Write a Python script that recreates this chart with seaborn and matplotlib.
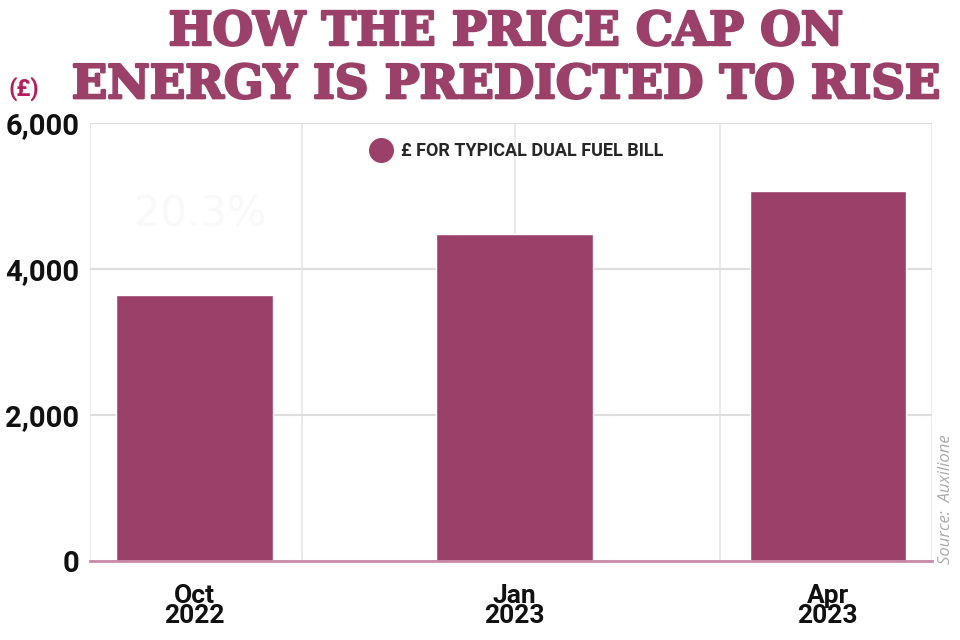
import pandas as pd
import seaborn as sns
import matplotlib.pyplot as plt
import matplotlib.patheffects as pe
from matplotlib.lines import Line2D

# Données
periods = ["2022-10-01", "2023-01-01", "2023-04-01"]
tick_labels = ["Oct\n2022", "Jan\n2023", "Apr\n2023"]
bill = [3650, 4480, 5070]
grid_dates = ["2022-09-01", "2022-11-01", "2023-01-01", "2023-03-01", "2023-05-01"]
y_ticks = [0, 2000, 4000, 6000]

start = pd.Timestamp("2022-09-01")
df = pd.DataFrame({"date": pd.to_datetime(periods), "bill": bill})
df["day"] = (df["date"] - start).dt.days
grid_days = [(pd.Timestamp(d) - start).days for d in grid_dates]

purple = "#9b4069"
bold_font = ["Roboto", "DejaVu Sans"]

sns.set_style("white")
fig = plt.figure(figsize=(9.6, 6.4), dpi=100)
ax = fig.add_axes([0.094, 0.123, 0.877, 0.685])

sns.barplot(data=df, x="day", y="bill", native_scale=True, width=0.5,
            color=purple, saturation=1, ax=ax, zorder=3)

# lignes verticales de la grille (tous les deux mois)
for d in grid_days:
    ax.axvline(d, color="#e6e6e6", linewidth=1.2, zorder=0)

ax.set_xlim(grid_days[0], grid_days[-1])
ax.set_ylim(0, 6000)
ax.set_xticks(df["day"])
ax.set_xticklabels(tick_labels, family=bold_font, fontweight="bold",
                   fontsize=19, linespacing=0.82, color="#111111")
ax.set_yticks(y_ticks)
ax.set_yticklabels([f"{v:,}" for v in y_ticks], family=bold_font,
                   fontweight="bold", fontsize=21, color="#111111")
ax.tick_params(axis="x", length=13, width=2, color="#b9668a", pad=3)
ax.tick_params(axis="y", length=0, pad=8)
ax.grid(axis="y", color="#dddddd", linewidth=1.5, zorder=0)
ax.set_axisbelow(True)
for s in ["top", "right", "left"]:
    ax.spines[s].set_visible(False)
ax.spines["bottom"].set_color("#c98aa6")
ax.spines["bottom"].set_linewidth(2)
ax.spines["bottom"].set_zorder(4)
ax.set_xlabel("")
ax.set_ylabel("")

# filigrane très pâle
ax.text(0.13, 0.79, "20.3%", transform=ax.transAxes, fontsize=30,
        color="#f9f9f9", ha="center", va="center", zorder=1)

handle = Line2D([], [], marker="o", linestyle="", markersize=17,
                markerfacecolor=purple, markeredgecolor=purple)
ax.legend([handle], ["£ FOR TYPICAL DUAL FUEL BILL"], loc="center left",
          bbox_to_anchor=(0.305, 0.935), frameon=False, handletextpad=0.1,
          prop={"family": bold_font, "weight": "bold", "size": 13})

heavy = [pe.withStroke(linewidth=1.8, foreground=purple)]
fig.text(0.527, 0.950, "HOW THE PRICE CAP ON", ha="center", va="center",
         family="DejaVu Serif", fontweight="bold", fontsize=33.5, color=purple,
         path_effects=heavy)
fig.text(0.527, 0.867, "ENERGY IS PREDICTED TO RISE", ha="center", va="center",
         family="DejaVu Serif", fontweight="bold", fontsize=33.5, color=purple,
         path_effects=heavy)
fig.text(0.025, 0.862, "(£)", ha="center", va="center", fontweight="bold",
         family=bold_font, fontsize=17, color="#b51d5c")
fig.text(0.985, 0.22, "Source:  Auxilione", rotation=90, ha="center", va="center",
         fontstyle="italic", fontsize=12, color="#aaaaaa", family="Open Sans")

fig.savefig("out.png", dpi=100)
